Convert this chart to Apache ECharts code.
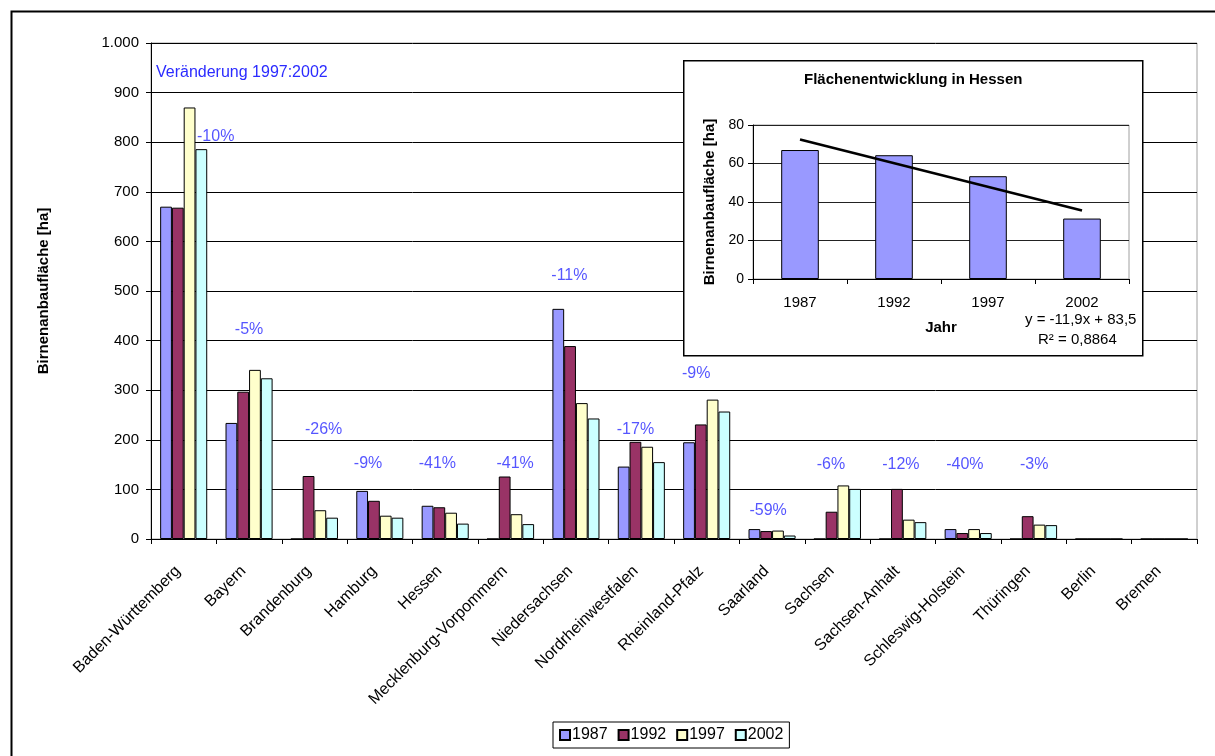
<!DOCTYPE html>
<html>
<head>
<meta charset="utf-8">
<script src="https://cdn.jsdelivr.net/npm/echarts@6/dist/echarts.min.js"></script>
<style>
html,body{margin:0;padding:0;background:#fff;}
#chart{width:1215px;height:756px;}
</style>
</head>
<body>
<div id="chart"></div>
<script>
const categories = ['Baden-Württemberg','Bayern','Brandenburg','Hamburg','Hessen','Mecklenburg-Vorpommern','Niedersachsen','Nordrheinwestfalen','Rheinland-Pfalz','Saarland','Sachsen','Sachsen-Anhalt','Schleswig-Holstein','Thüringen','Berlin','Bremen'];
const seriesNames = ['1987','1992','1997','2002'];
const v1987 = [670,234,0,97,67,0,464,146,195,20,0,0,20,0,0,0];
const v1992 = [668,297,127,77,64,126,389,196,231,16,55,101,12,46,0,0];
const v1997 = [870,341,58,47,53,50,274,186,281,17,108,39,20,29,0,0];
const v2002 = [786,324,43,43,31,30,243,155,257,7,101,34,12,28,0,0];
const yTicks = [0,100,200,300,400,500,600,700,800,900,1000];

const pctLabels = ['-10%','-5%','-26%','-9%','-41%','-41%','-11%','-17%','-9%','-59%','-6%','-12%','-40%','-3%'];
const pctX = [0.99,1.5,2.64,3.32,4.38,5.57,6.40,7.41,8.34,9.44,10.40,11.47,12.45,13.51];
const pctY = [812,423,220,153,153,153,531,220,334,57,151,151,151,151];

const hessenYears = ['1987','1992','1997','2002'];
const hessenValues = [67,64.3,53.4,31.4];
const hessenTrend = [72.5,null,null,35.6];
const insetTicks = [0,20,40,60,80];

const FONT = 'Liberation Sans, Arial, sans-serif';
const colors = ['#9999ff','#993366','#ffffcc','#ccffff'];
const values = [v1987, v1992, v1997, v2002];

const chart = echarts.init(document.getElementById('chart'));

const barSeries = seriesNames.map((n, i) => ({
  name: n, type: 'bar', xAxisIndex: 0, yAxisIndex: 0,
  data: values[i], barGap: '0%', barCategoryGap: '28%',
  itemStyle: { color: colors[i], borderColor: '#000', borderWidth: 1 },
  z: 2
}));

const option = {
  animation: false,
  textStyle: { fontFamily: FONT },
  title: {
    text: 'Veränderung 1997:2002', left: 151, top: 60,
    textStyle: { color: '#2b2bff', fontSize: 16, fontWeight: 'normal', fontFamily: FONT }
  },
  legend: {
    data: seriesNames, left: 553, top: 722,
    itemWidth: 10, itemHeight: 10, itemGap: 10,
    padding: [5, 6, 5, 6],
    borderColor: '#000', borderWidth: 1,
    icon: 'rect',
    textStyle: { fontSize: 16, color: '#000', fontFamily: FONT, padding: [0,0,0,-3] }
  },
  grid: [
    { left: 151, top: 43, right: 18, bottom: 217, show: true, borderColor: '#a0a0a0', borderWidth: 1, z: 0 },
    { left: 753, top: 125, right: 86, bottom: 477, show: true, borderColor: '#a0a0a0', borderWidth: 1, backgroundColor: '#fff', z: 6 }
  ],
  xAxis: [
    {
      type: 'category', gridIndex: 0, data: categories, boundaryGap: true,
      axisLine: { lineStyle: { color: '#000', width: 1 } },
      axisTick: { show: true, alignWithLabel: false, length: 5, lineStyle: { color: '#000' } },
      axisLabel: { interval: 0, rotate: 45, fontSize: 16, color: '#000', margin: 24, padding: [0, 8, 0, 0], fontFamily: FONT }
    },
    {
      type: 'category', gridIndex: 1, data: hessenYears, boundaryGap: true,
      name: 'Jahr', nameLocation: 'middle', nameGap: 41,
      nameTextStyle: { fontWeight: 'bold', fontSize: 15, color: '#000', fontFamily: FONT },
      axisLine: { lineStyle: { color: '#000' } },
      axisTick: { show: true, alignWithLabel: false, length: 5, lineStyle: { color: '#000' } },
      axisLabel: { fontSize: 15, color: '#000', margin: 16, fontFamily: FONT },
      z: 7
    },
    {
      type: 'value', gridIndex: 0, min: 0, max: 16, show: false
    }
  ],
  yAxis: [
    {
      type: 'value', gridIndex: 0, min: 0, max: 1000, interval: 100,
      name: 'Birnenanbaufläche [ha]', nameLocation: 'middle', nameGap: 100,
      nameTextStyle: { fontWeight: 'bold', fontSize: 15, color: '#000', fontFamily: FONT },
      axisLine: { show: true, lineStyle: { color: '#000' } },
      axisTick: { show: true, length: 5, lineStyle: { color: '#000' } },
      axisLabel: { fontSize: 15, color: '#000', margin: 12, fontFamily: FONT,
        formatter: v => yTicks.indexOf(v) >= 0 ? (v >= 1000 ? (v/1000) + '.' + String(v%1000).padStart(3,'0') : String(v)) : '' },
      splitLine: { show: true, lineStyle: { color: '#000', width: 1 } }
    },
    {
      type: 'value', gridIndex: 1, min: 0, max: 80, interval: 20,
      name: 'Birnenanbaufläche [ha]', nameLocation: 'middle', nameGap: 36,
      nameTextStyle: { fontWeight: 'bold', fontSize: 15, color: '#000', fontFamily: FONT },
      axisLine: { show: true, lineStyle: { color: '#000' } },
      axisTick: { show: true, length: 5, lineStyle: { color: '#000' } },
      axisLabel: { fontSize: 14, color: '#000', margin: 9, fontFamily: FONT,
        formatter: v => insetTicks.indexOf(v) >= 0 ? String(v) : '' },
      splitLine: { show: true, lineStyle: { color: '#222', width: 1 } },
      z: 7
    }
  ],
  graphic: [
    { type: 'rect', left: 9, top: 9, z: -10,
      shape: { x: 0, y: 0, width: 1230, height: 780 },
      style: { fill: 'none', stroke: '#000', lineWidth: 2 } },
    { type: 'rect', left: 683, top: 60, z: 5,
      shape: { x: 0, y: 0, width: 459, height: 295 },
      style: { fill: '#fff', stroke: '#000', lineWidth: 1.5 } },
    { type: 'text', left: 804, top: 72, z: 9,
      style: { text: 'Flächenentwicklung in Hessen', fill: '#000', font: 'bold 15px ' + FONT } },
    { type: 'text', left: 1025, top: 312, z: 9,
      style: { text: 'y = -11,9x + 83,5', fill: '#000', font: '15px ' + FONT } },
    { type: 'text', left: 1038, top: 332, z: 9,
      style: { text: 'R² = 0,8864', fill: '#000', font: '15px ' + FONT } }
  ],
  series: barSeries.concat([
    {
      type: 'scatter', xAxisIndex: 2, yAxisIndex: 0, symbolSize: 0, z: 3,
      data: pctLabels.map((t, i) => ({ name: t, value: [pctX[i], pctY[i]] })),
      label: { show: true, position: 'inside', formatter: p => p.name, color: '#2b2bff', fontSize: 16, fontFamily: FONT }
    },
    {
      type: 'bar', xAxisIndex: 1, yAxisIndex: 1, data: hessenValues, barCategoryGap: '60%', z: 8,
      itemStyle: { color: '#9999ff', borderColor: '#000', borderWidth: 1 }
    },
    {
      type: 'line', xAxisIndex: 1, yAxisIndex: 1, data: hessenTrend, connectNulls: true,
      symbol: 'none', z: 9, lineStyle: { color: '#000', width: 2.5 }
    }
  ])
};
chart.setOption(option);
</script>
</body>
</html>
